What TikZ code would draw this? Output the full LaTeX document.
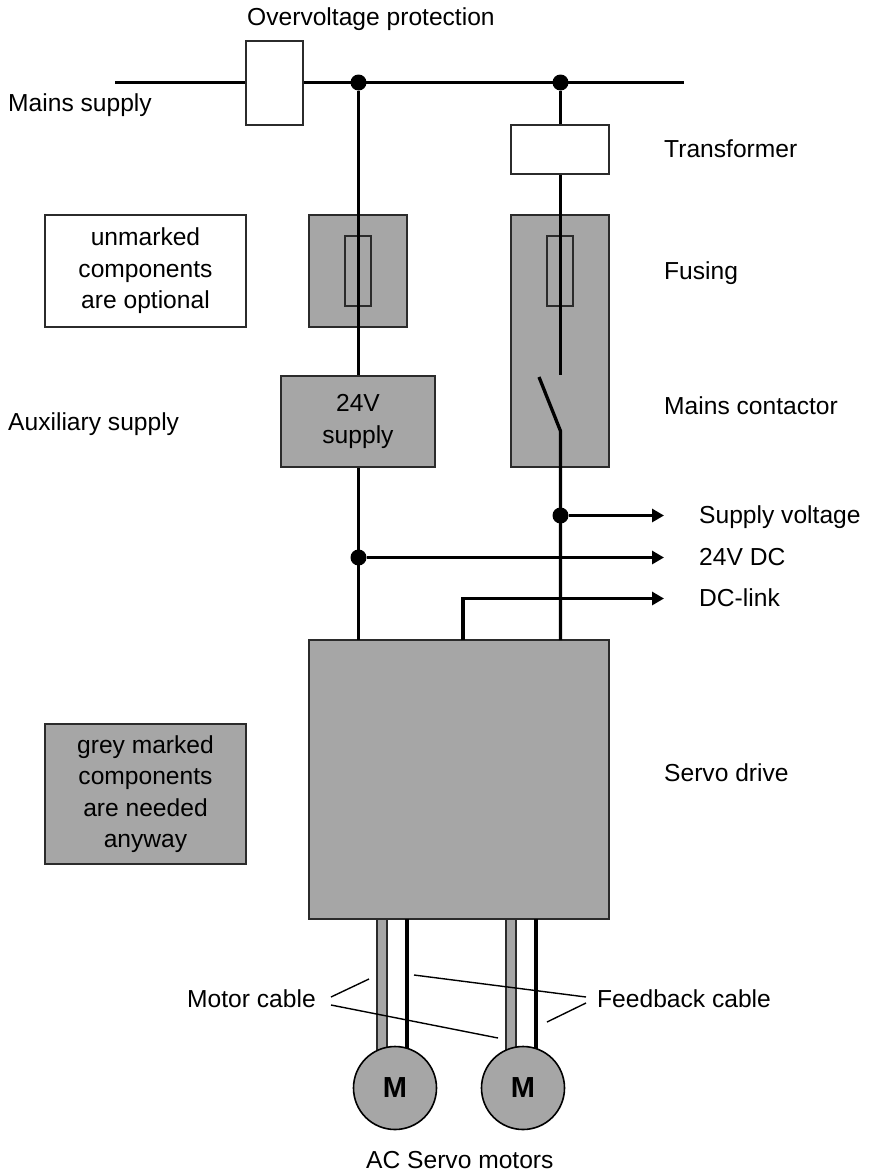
\documentclass[tikz,border=0pt]{standalone}
\usepackage{fontspec}
\setmainfont{Liberation Sans}
\usetikzlibrary{arrows.meta}

\definecolor{partgrey}{HTML}{A6A6A6}
\definecolor{partframe}{HTML}{2B2B2B}

\tikzset{
    labeltext/.style={anchor=base west, inner sep=0pt, font=\fontsize{24.6}{31.5}\selectfont},
    whitebox/.style={draw=partframe, line width=1.6pt, fill=white, inner sep=0pt, align=center, font=\fontsize{24.6}{31.5}\selectfont},
    greybox/.style={whitebox, fill=partgrey},
    fusebox/.style={draw=partframe, line width=1.6pt, inner sep=0pt, minimum width=26pt, minimum height=70pt},
    junction/.style={circle, fill=black, inner sep=0pt, minimum size=16pt},
    motor/.style={circle, draw=black, line width=1.6pt, fill=partgrey, inner sep=0pt, minimum size=83pt, font=\fontsize{29}{29}\selectfont\bfseries},
    cablecore/.style={draw=partframe, line width=1.6pt, fill=partgrey, inner sep=0pt, minimum width=10pt, minimum height=131pt},
    wire/.style={black, line width=3.3pt},
    pointer/.style={black, line width=1.4pt}
}

\begin{document}
\begin{tikzpicture}[x=1pt, y=-1pt, >={Stealth[black, length=12pt, width=13pt, inset=0pt]}]
\useasboundingbox (0, 0) rectangle (868, 1173);

% grey parts first, the wires run over them
\node[greybox, minimum width=98pt, minimum height=112pt] (fuseleft) at (358, 271) {};
\node[greybox, minimum width=98pt, minimum height=252pt] (fuseright) at (560, 341) {};
\node[fusebox] (fuseinnerleft) at (358, 271) {};
\node[fusebox] (fuseinnerright) at (560, 271) {};
\node[greybox, minimum width=154pt, minimum height=91pt] (auxsupply) at (358, 421.5) {24V\\supply};
\node[greybox, minimum width=300pt, minimum height=279pt] (servodrive) at (459, 779.5) {};
\node[whitebox, minimum width=201pt, minimum height=112pt] (noteoptional) at (145.5, 271) {unmarked\\components\\are optional};
\node[greybox, minimum width=201pt, minimum height=140pt] (noteneeded) at (145.5, 794) {grey marked\\components\\are needed\\anyway};

% mains rail and feeds
\coordinate (railstart) at (115, 82.5);
\coordinate (railend) at (684, 82.5);
\node[junction] (tapaux) at (358.5, 82.5) {};
\node[junction] (tapmain) at (560.5, 82.5) {};
\coordinate (contacttop) at (560.5, 375);
\coordinate (contactpivot) at (560.5, 431);
\coordinate (contactblade) at (539, 377);
\coordinate (auxin) at (358.5, 640);
\coordinate (mainin) at (560.5, 640);
\coordinate (linkin) at (463, 640);
\coordinate (linkbend) at (463, 598.5);
\node[junction] (tapsupply) at (560.5, 515.5) {};
\node[junction] (tapdc) at (358.5, 557.5) {};
\coordinate (supplyend) at (664, 515.5);
\coordinate (dcend) at (664, 557.5);
\coordinate (linkend) at (664, 598.5);

\draw[wire] (railstart) -- (railend);
\draw[wire] (tapaux) -- (auxsupply.north -| tapaux);
\draw[wire] (auxsupply.south -| tapaux) -- (auxin);
\draw[wire] (tapmain) -- (contacttop);
\draw[wire] (contactblade) -- (contactpivot) -- (mainin);
\begin{scope}[every edge/.style={draw, wire}]
    \path [->] (tapsupply) edge (supplyend);
    \path [->] (tapdc) edge (dcend);
\end{scope}
\draw[wire, ->] (linkin) -- (linkbend) -- (linkend);

% white parts sit on the wires
\node[whitebox, minimum width=57pt, minimum height=84pt] (overvoltage) at (274.5, 83) {};
\node[whitebox, minimum width=98pt, minimum height=49pt] (transformer) at (560, 149.5) {};

% cables and motors
\node[cablecore] (coreone) at (382, 984.5) {};
\node[cablecore] (coretwo) at (511, 984.5) {};
\coordinate (feedonetop) at (407, 919);
\coordinate (feedonebottom) at (407, 1050);
\coordinate (feedtwotop) at (536, 919);
\coordinate (feedtwobottom) at (536, 1050);
\draw[wire] (feedonetop) -- (feedonebottom);
\draw[wire] (feedtwotop) -- (feedtwobottom);
\node[motor] (motorone) at (395, 1088) {M};
\node[motor] (motortwo) at (523, 1088) {M};

% labels
\draw[] (247, 25) node[labeltext] (overvoltagelabel) {Overvoltage protection};
\draw[] (8, 111) node[labeltext] (mainslabel) {Mains supply};
\draw[] (664, 157) node[labeltext] (transformerlabel) {Transformer};
\draw[] (664, 279) node[labeltext] (fusinglabel) {Fusing};
\draw[] (664, 414) node[labeltext] (contactorlabel) {Mains contactor};
\draw[] (8, 430) node[labeltext] (auxlabel) {Auxiliary supply};
\draw[] (699, 523) node[labeltext] (supplylabel) {Supply voltage};
\draw[] (699, 565) node[labeltext] (dclabel) {24V DC};
\draw[] (699, 606) node[labeltext] (linklabel) {DC-link};
\draw[] (664, 781) node[labeltext] (servolabel) {Servo drive};
\draw[] (187, 1007) node[labeltext] (motorcablelabel) {Motor cable};
\draw[] (597, 1007) node[labeltext] (feedbacklabel) {Feedback cable};
\draw[] (366, 1168) node[labeltext] (motorslabel) {AC Servo motors};

% pointer lines
\coordinate (motorcablea) at (331, 997);
\coordinate (motorcableb) at (369, 979);
\coordinate (motorcablec) at (331, 1005);
\coordinate (motorcabled) at (498, 1038);
\coordinate (feedbacka) at (586, 997);
\coordinate (feedbackb) at (414, 975);
\coordinate (feedbackc) at (586, 1003);
\coordinate (feedbackd) at (547, 1022);
\draw[pointer] (motorcablea) -- (motorcableb);
\draw[pointer] (motorcablec) -- (motorcabled);
\draw[pointer] (feedbacka) -- (feedbackb);
\draw[pointer] (feedbackc) -- (feedbackd);
\end{tikzpicture}
\end{document}
